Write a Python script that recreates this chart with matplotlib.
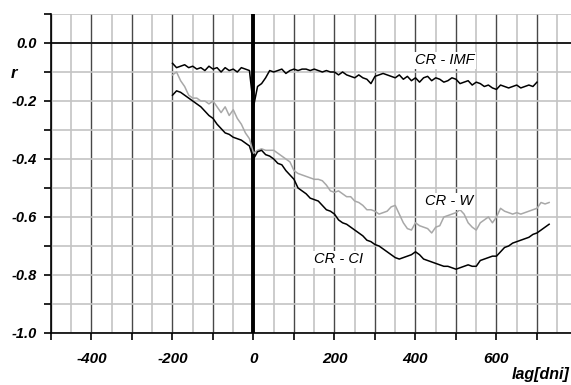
import numpy as np
import matplotlib
matplotlib.use("Agg")
from matplotlib import pyplot as plt
from matplotlib.ticker import FuncFormatter, MultipleLocator

plt.rcParams['font.family'] = ['Liberation Sans', 'DejaVu Sans']

# lag [days] and correlation coefficients
lag_long = np.arange(-200, 731, 10)
lag_imf = np.arange(-200, 701, 10)

r_ci = [-0.18, -0.165, -0.17, -0.18, -0.19, -0.20, -0.21, -0.22, -0.235, -0.25,
        -0.26, -0.28, -0.295, -0.31, -0.315, -0.325, -0.33, -0.335, -0.345, -0.355,
        -0.40, -0.375, -0.37, -0.385, -0.39, -0.40, -0.415, -0.42, -0.44, -0.455,
        -0.47, -0.50, -0.51, -0.52, -0.535, -0.54, -0.545, -0.56, -0.575, -0.58,
        -0.59, -0.61, -0.62, -0.625, -0.635, -0.645, -0.655, -0.665, -0.68, -0.685,
        -0.695, -0.70, -0.71, -0.72, -0.73, -0.74, -0.745, -0.74, -0.735, -0.73,
        -0.72, -0.73, -0.745, -0.75, -0.755, -0.76, -0.765, -0.77, -0.77, -0.775,
        -0.78, -0.775, -0.77, -0.765, -0.77, -0.77, -0.75, -0.745, -0.74, -0.735,
        -0.735, -0.72, -0.705, -0.70, -0.69, -0.685, -0.68, -0.675, -0.67, -0.66,
        -0.655, -0.645, -0.635, -0.625]

r_w = [-0.11, -0.10, -0.13, -0.15, -0.18, -0.19, -0.19, -0.20, -0.20, -0.21,
       -0.20, -0.22, -0.24, -0.22, -0.25, -0.23, -0.26, -0.28, -0.31, -0.33,
       -0.38, -0.37, -0.365, -0.37, -0.37, -0.37, -0.38, -0.39, -0.40, -0.41,
       -0.44, -0.45, -0.455, -0.46, -0.465, -0.47, -0.47, -0.475, -0.49, -0.51,
       -0.515, -0.51, -0.52, -0.53, -0.53, -0.545, -0.55, -0.56, -0.575, -0.575,
       -0.58, -0.59, -0.585, -0.58, -0.565, -0.56, -0.59, -0.62, -0.64, -0.645,
       -0.62, -0.63, -0.635, -0.64, -0.655, -0.635, -0.63, -0.60, -0.595, -0.59,
       -0.585, -0.575, -0.59, -0.62, -0.635, -0.645, -0.62, -0.61, -0.60, -0.62,
       -0.60, -0.57, -0.58, -0.585, -0.59, -0.585, -0.59, -0.585, -0.58, -0.575,
       -0.57, -0.55, -0.555, -0.55]

r_imf = [-0.07, -0.085, -0.08, -0.075, -0.085, -0.08, -0.09, -0.085, -0.095, -0.08,
         -0.09, -0.085, -0.10, -0.085, -0.095, -0.09, -0.10, -0.085, -0.09, -0.095,
         -0.22, -0.15, -0.14, -0.12, -0.095, -0.10, -0.095, -0.09, -0.105, -0.095,
         -0.09, -0.095, -0.09, -0.09, -0.095, -0.09, -0.095, -0.10, -0.095, -0.10,
         -0.10, -0.11, -0.10, -0.11, -0.115, -0.12, -0.11, -0.12, -0.125, -0.14,
         -0.115, -0.11, -0.105, -0.11, -0.115, -0.12, -0.11, -0.125, -0.115, -0.13,
         -0.12, -0.135, -0.12, -0.115, -0.13, -0.12, -0.125, -0.135, -0.13, -0.12,
         -0.125, -0.14, -0.135, -0.13, -0.145, -0.135, -0.14, -0.15, -0.145, -0.155,
         -0.16, -0.145, -0.15, -0.155, -0.15, -0.145, -0.155, -0.15, -0.145, -0.15,
         -0.135]

fig = plt.figure(figsize=(5.71, 3.85), dpi=100)
ax = fig.add_axes([51/571, 1 - 333/385, 1 - 51/571, 319/385])

ax.set_xlim(-500, 784)
ax.set_ylim(-1.0, 0.1)

# grid
ax.xaxis.set_major_locator(MultipleLocator(100))
ax.xaxis.set_minor_locator(MultipleLocator(50))
ax.yaxis.set_major_locator(MultipleLocator(0.1))
ax.grid(which='major', axis='x', color='#484848', lw=1.0, zorder=0)
ax.grid(which='minor', axis='x', color='#c4c4c4', lw=1.2, zorder=0)
ax.grid(which='major', axis='y', color='#c4c4c4', lw=1.2, zorder=0)
ax.set_axisbelow(True)
ax.axhline(0, color='black', lw=1.2, zorder=1)
ax.axvline(0, color='black', lw=2.8, zorder=1)

ax.plot(lag_long, r_w, color='#a8a8a8', lw=1.1, zorder=2)
ax.plot(lag_long, r_ci, color='black', lw=1.1, zorder=3)
ax.plot(lag_imf, r_imf, color='black', lw=1.1, zorder=3)

for sp in ['top', 'right']:
    ax.spines[sp].set_visible(False)
ax.spines['left'].set_linewidth(1.2)
ax.spines['bottom'].set_linewidth(1.2)

ax.tick_params(which='major', direction='out', length=5, width=1.2, color='black')
ax.tick_params(which='minor', length=0)
ax.tick_params(axis='y', pad=5.5)
ax.tick_params(axis='x', pad=8.5)

def fmt_x(v, pos):
    iv = int(round(v))
    if iv % 200 == 0 and -400 <= iv <= 600:
        return str(iv)
    return ''

def fmt_y(v, pos):
    k = int(round(v * 10))
    if k % 2 == 0 and k <= 0:
        return '%.1f' % v if k != 0 else '0.0'
    return ''

ax.xaxis.set_major_formatter(FuncFormatter(fmt_x))
ax.yaxis.set_major_formatter(FuncFormatter(fmt_y))
for lab in ax.get_xticklabels():
    lab.set_fontsize(11)
    lab.set_fontweight('bold')
    lab.set_fontstyle('italic')
for lab in ax.get_yticklabels():
    lab.set_fontsize(10.5)
    lab.set_fontweight('bold')
    lab.set_fontstyle('italic')

fig.text(14/571, 1 - 73/385, 'r', fontsize=12, fontweight='bold', fontstyle='italic',
         ha='center', va='center')
fig.text(570/571, 1 - 375/385, 'lag[dni]', fontsize=11.5, fontweight='bold',
         fontstyle='italic', ha='right', va='center')

box = dict(facecolor='white', edgecolor='none', pad=1)
ax.text(472, -0.059, 'CR - IMF', fontsize=10.5, fontstyle='italic', ha='center',
        va='center', bbox=box, zorder=4)
ax.text(482, -0.545, 'CR - W', fontsize=10.5, fontstyle='italic', ha='center',
        va='center', bbox=box, zorder=4)
ax.text(211, -0.745, 'CR - CI', fontsize=10.5, fontstyle='italic', ha='center',
        va='center', bbox=box, zorder=4)

fig.savefig('out.png', dpi=100)
